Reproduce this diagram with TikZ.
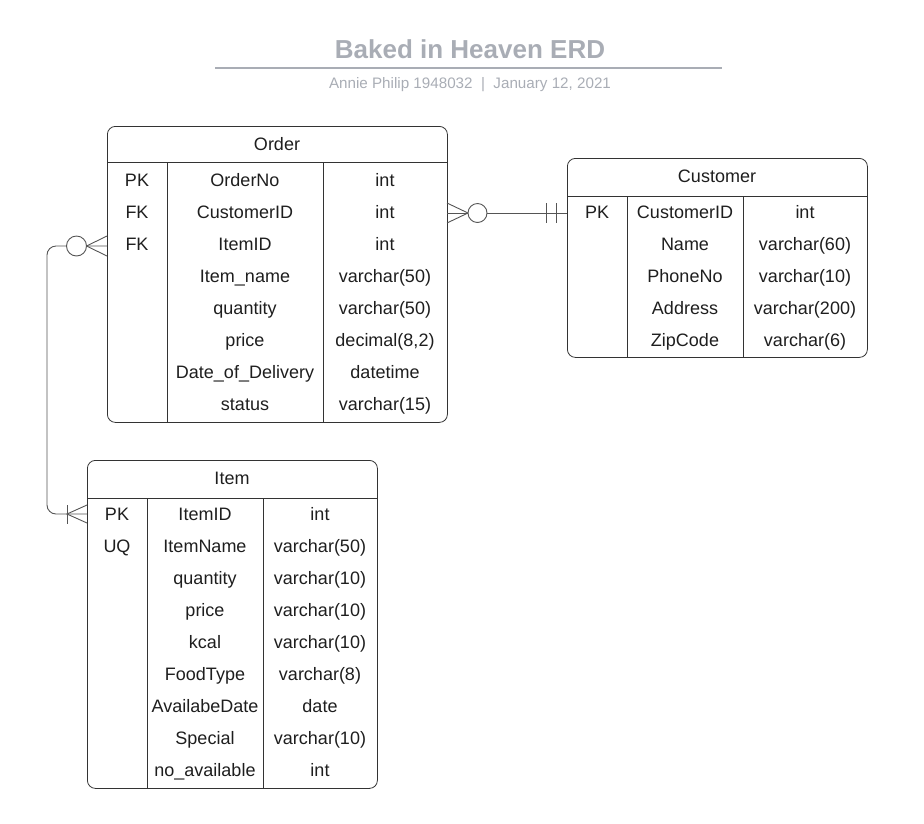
\documentclass[tikz,border=0pt]{standalone}
\usepackage{fontspec}
\setmainfont{Liberation Sans}
\definecolor{linec}{HTML}{333333}
\definecolor{connc}{HTML}{555555}
\definecolor{txt}{HTML}{1E1E1E}
\definecolor{ttl}{HTML}{A9ADB5}
\begin{document}
\begin{tikzpicture}[x=1pt,y=-1pt,
  tbl/.style={draw=linec, line width=0.8pt, rounded corners=8pt, anchor=north west, inner sep=0pt},
  rule/.style={draw=linec, line width=0.8pt},
  cell/.style={font=\fontsize{18}{20}\selectfont, text=txt, inner sep=0pt, text height=13pt, text depth=0pt},
  conn/.style={draw=connc, line width=0.9pt},
]
\useasboundingbox (0,0) rectangle (924,823);
% title
\node[font=\fontsize{26}{28}\selectfont\bfseries, text=ttl, text height=19pt, text depth=0pt, inner sep=0pt] (title) at (470,49) {Baked in Heaven ERD};
\coordinate (tl) at (215,68);
\coordinate (tr) at (722,68);
\draw[ttl, line width=1.8pt] (tl) -- (tr);
\node[font=\fontsize{15.2}{17}\selectfont, text=ttl, text height=11pt, text depth=0pt, inner sep=0pt] (sub) at (470,83) {Annie Philip 1948032 \ \textbar\ \ January 12, 2021};

% Order table
\node[tbl, minimum width=340pt, minimum height=296pt] (order) at (107,126) {};
\draw[rule] (107,162) -- (447,162);
\draw[rule] (167,162) -- (167,422);
\draw[rule] (323,162) -- (323,422);
\node[cell] (orderT) at (277,144) {Order};
\foreach [count=\i] \k/\n/\t in {PK/OrderNo/int, FK/CustomerID/int, FK/ItemID/int, /Item\_name/{varchar(50)}, /quantity/{varchar(50)}, /price/{decimal(8,2)}, /Date\_of\_Delivery/datetime, /status/{varchar(15)}}{
  \node[cell] (ok\i) at (137,148+32*\i) {\k};
  \node[cell] (on\i) at (245,148+32*\i) {\n};
  \node[cell] (ot\i) at (385,148+32*\i) {\t};
}

% Customer table
\node[tbl, minimum width=300pt, minimum height=199pt] (cust) at (567,158) {};
\draw[rule] (567,196) -- (867,196);
\draw[rule] (627,196) -- (627,357);
\draw[rule] (743,196) -- (743,357);
\node[cell] (custT) at (717,176) {Customer};
\foreach [count=\i] \k/\n/\t in {PK/CustomerID/int, /Name/{varchar(60)}, /PhoneNo/{varchar(10)}, /Address/{varchar(200)}, /ZipCode/{varchar(6)}}{
  \node[cell] (ck\i) at (597,180+32*\i) {\k};
  \node[cell] (cn\i) at (685,180+32*\i) {\n};
  \node[cell] (ct\i) at (805,180+32*\i) {\t};
}

% Item table
\node[tbl, minimum width=290pt, minimum height=328pt] (item) at (87,460) {};
\draw[rule] (87,498) -- (377,498);
\draw[rule] (147,498) -- (147,788);
\draw[rule] (263,498) -- (263,788);
\node[cell] (itemT) at (232,478) {Item};
\foreach [count=\i] \k/\n/\t in {PK/ItemID/int, UQ/ItemName/{varchar(50)}, /quantity/{varchar(10)}, /price/{varchar(10)}, /kcal/{varchar(10)}, /FoodType/{varchar(8)}, /AvailabeDate/date, /Special/{varchar(10)}, /no\_available/int}{
  \node[cell] (ik\i) at (117,482+32*\i) {\k};
  \node[cell] (in\i) at (205,482+32*\i) {\n};
  \node[cell] (it\i) at (320,482+32*\i) {\t};
}

% Order -- Customer connector
\coordinate (oR) at (447,213);
\coordinate (cL) at (567,213);
\draw[conn] (oR) -- (cL);
\draw[conn] (447,203) -- (468,213) -- (447,223);
\draw[conn, fill=white] (477.5,213) circle (9.5pt);
\draw[conn] (546,203) -- (546,223);
\draw[conn] (556,203) -- (556,223);

% Order -- Item connector
\coordinate (oL) at (107,246);
\coordinate (iL) at (87,514);
\draw[conn, rounded corners=9pt] (oL) -- (47,246) -- (47,514) -- (iL);
\draw[conn] (107,236) -- (86.5,246) -- (107,256);
\draw[conn, fill=white] (76.5,246) circle (10pt);
\draw[conn] (67,505) -- (67,524);
\draw[conn] (87,505) -- (67,514) -- (87,523);
\end{tikzpicture}
\end{document}
